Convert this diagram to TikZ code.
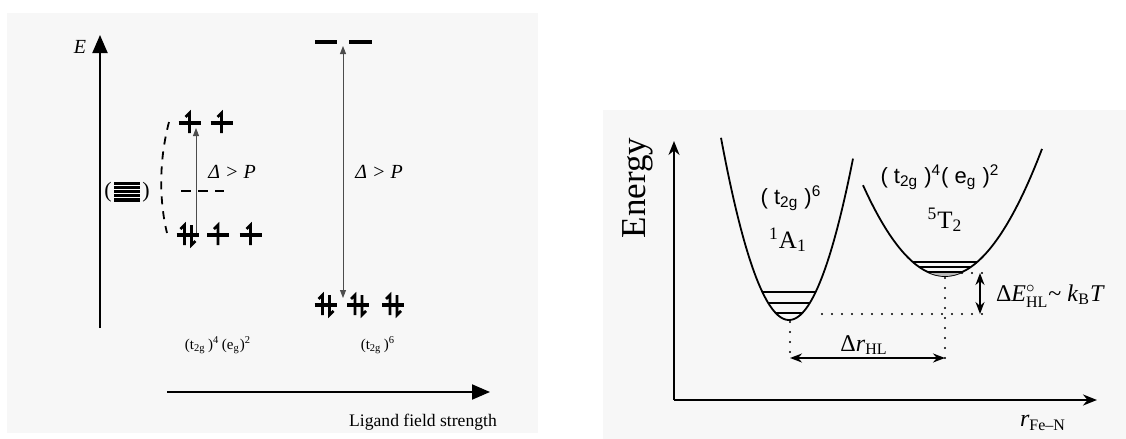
\documentclass[tikz,border=0pt]{standalone}
\usepackage{fontspec}
\usepackage{amsmath}
\setmainfont{Liberation Serif}
\setsansfont{Liberation Sans}
\usetikzlibrary{arrows.meta}
\tikzset{
  lax/.style={line width=1pt,-{Triangle[length=9pt,width=7.5pt]}},
  rax/.style={line width=1pt,-{Stealth[length=7pt,width=5.5pt]}},
  thinarr/.style={line width=0.45pt,black!70,-{Triangle[length=4pt,width=3pt]}},
  thinarr2/.style={line width=0.45pt,black!70,{Triangle[length=4pt,width=3pt]}-{Triangle[length=4pt,width=3pt]}},
  lvl/.style={line width=1.6pt},
  spin/.style={line width=1.3pt},
  well/.style={line width=0.9pt},
  vib/.style={line width=0.8pt},
  dots/.style={line width=1.2pt,dash pattern=on 0pt off 5pt,line cap=round},
  dimarr/.style={line width=0.9pt,{Stealth[length=6pt,width=4.5pt]}-{Stealth[length=6pt,width=4.5pt]}},
  lbl/.style={inner sep=0pt,outer sep=0pt},
  pics/spinup/.style={code={
    \draw[lvl] (-11,0) -- (11,0);
    \draw[spin] (0,10) -- (0,-10) -- (-4,-6);
  }},
  pics/spinpair/.style={code={
    \draw[lvl] (-11,0) -- (11,0);
    \draw[spin] (-3,10) -- (-3,-10) -- (-7,-6);
    \draw[spin] (4,-10) -- (4,10) -- (8,6);
  }},
}
\begin{document}
\begin{tikzpicture}[x=0.5pt,y=-0.5pt]
\useasboundingbox (0,0) rectangle (1126,439);
\fill[white] (0,0) rectangle (1126,439);
% scanned page backgrounds
\fill[gray!6] (7,13) rectangle (538,433);
\fill[gray!6] (603,110) rectangle (1126,439);

% ================= LEFT PANEL =================
\coordinate (Ebot) at (100,328);
\coordinate (Etop) at (100,35);
\draw[lax] (Ebot) -- (Etop);
\node[lbl] (Elab) at (80,47) {\fontsize{10}{12}\selectfont\itshape E};
\coordinate (Lx0) at (167,392);
\coordinate (Lx1) at (490,392);
\draw[lax] (Lx0) -- (Lx1);
\node[lbl] (lfs) at (423,422) {\fontsize{8.8}{10}\selectfont Ligand field strength};

% free ion (degenerate) levels
\node[lbl] (pl) at (108,192) {\fontsize{11}{12}\selectfont (};
\node[lbl] (pr) at (146,192) {\fontsize{11}{12}\selectfont )};
\fill[black] (114,182) rectangle (140,202);
\foreach \yy in {185.5,189.5,193.5,197.5} \draw[white,line width=0.6pt] (114,\yy) -- (140,\yy);

% high spin configuration
\coordinate (hsE1) at (189.5,123);
\coordinate (hsE2) at (221.5,123);
\coordinate (hsT1) at (187.5,235);
\coordinate (hsT2) at (218,235);
\coordinate (hsT3) at (250.5,235);
\pic at (hsE1) {spinup};
\pic at (hsE2) {spinup};
\pic at (hsT1) {spinpair};
\pic at (hsT2) {spinup};
\pic at (hsT3) {spinup};
\coordinate (bary0) at (181,191);
\coordinate (bary1) at (224,191);
\draw[line width=0.9pt,dash pattern=on 5pt off 3.5pt] (bary0) -- (bary1);
\coordinate (sp0) at (169,122);
\coordinate (sp1) at (167,233);
\draw[line width=0.9pt,dash pattern=on 4pt off 3.5pt] (sp0) .. controls (159,160) and (159,200) .. (sp1);
\coordinate (hsA0) at (196,233);
\coordinate (hsA1) at (196,128);
\draw[thinarr] (hsA0) -- (hsA1);
\node[lbl] (dp1) at (232,172) {\fontsize{10}{12}\selectfont\itshape Δ > P};
\node[lbl] (hslab) at (218,345) {\fontsize{7.5}{9}\selectfont (t$_{\text{2g}}$\,)$^{\text{4}}$\,(e$_{\text{g}}$)$^{\text{2}}$};

% low spin configuration
\coordinate (lsE1a) at (315,42);
\coordinate (lsE1b) at (337,42);
\coordinate (lsE2a) at (349,42);
\coordinate (lsE2b) at (372,42);
\draw[line width=2pt] (lsE1a) -- (lsE1b);
\draw[line width=2pt] (lsE2a) -- (lsE2b);
\coordinate (lsT1) at (325.5,305);
\coordinate (lsT2) at (358,305);
\coordinate (lsT3) at (393,305);
\pic at (lsT1) {spinpair};
\pic at (lsT2) {spinpair};
\pic at (lsT3) {spinpair};
\coordinate (lsA0) at (343,298);
\coordinate (lsA1) at (343,46);
\draw[thinarr2] (lsA0) -- (lsA1);
\node[lbl] (dp2) at (379,172) {\fontsize{10}{12}\selectfont\itshape Δ > P};
\node[lbl] (lslab) at (378,345) {\fontsize{7.5}{9}\selectfont (t$_{\text{2g}}$\,)$^{\text{6}}$};

% ================= RIGHT PANEL =================
\coordinate (O) at (674,400);
\coordinate (Ey) at (674,141);
\coordinate (Rx) at (1097,400);
\draw[rax] (O) -- (Ey);
\draw[rax] (O) -- (Rx);
\node[lbl,rotate=90] (Elab2) at (638,188) {\fontsize{17.5}{20}\selectfont Energy};
\node[lbl] (rfen) at (1043,423) {\fontsize{12}{14}\selectfont\itshape r\/$_{\text{\upshape Fe–N}}$};

% potential wells
\draw[well] plot[domain=721:853,samples=80] (\x,{320-0.0394*(\x-789)^2});
\draw[well] plot[domain=863:1042,samples=80] (\x,{276-0.0135*(\x-945)^2});
% vibrational levels
\foreach \yy in {292,303,313}
  \draw[vib] ({789-sqrt((320-\yy)/0.0394)},\yy) -- ({789+sqrt((320-\yy)/0.0394)},\yy);
\fill[gray!55] plot[domain=928:962,samples=20] (\x,{276-0.0135*(\x-945)^2}) -- cycle;
\foreach \yy in {262,267,272}
  \draw[vib] ({945-sqrt((276-\yy)/0.0135)},\yy) -- ({945+sqrt((276-\yy)/0.0135)},\yy);

% dotted construction lines
\coordinate (LSmin) at (790,322);
\coordinate (HSmin) at (945,278);
\coordinate (LSbot) at (790,358);
\coordinate (HSbot) at (945,358);
\coordinate (hz0) at (822,314);
\coordinate (hz1) at (988,314);
\coordinate (tz0) at (962,273);
\coordinate (tz1) at (988,273);
\draw[dots] (LSmin) -- (LSbot);
\draw[dots] (HSmin) -- (HSbot);
\draw[dots] (hz0) -- (hz1);
\draw[dots] (tz0) -- (tz1);
\coordinate (dE0) at (980,273);
\coordinate (dE1) at (980,314);
\draw[dimarr] (dE0) -- (dE1);
\draw[dimarr] (LSbot) -- (HSbot);

% labels
\node[lbl] (lsconf) at (791,198) {\fontsize{11}{13}\selectfont\sffamily ( t$_{\text{2g}}$ )$^{\text{6}}$};
\node[lbl] (lsterm) at (788,240) {\fontsize{12.5}{14}\selectfont $^{\text{1}}$A$_{\text{1}}$};
\node[lbl] (hsconf) at (940,177) {\fontsize{11}{13}\selectfont\sffamily ( t$_{\text{2g}}$ )$^{\text{4}}$( e$_{\text{g}}$ )$^{\text{2}}$};
\node[lbl] (hsterm) at (945,220) {\fontsize{12.5}{14}\selectfont $^{\text{5}}$T$_{\text{2}}$};
\node[lbl] (drlab) at (864,345) {\fontsize{12}{14}\selectfont Δ\textit{r}$_{\text{HL}}$};
\node[lbl,anchor=west] (delab) at (996,296) {\fontsize{12}{14}\selectfont Δ\textit{E}$^{\circ}_{\text{HL}}$\symbol{"007E} \textit{k}$_{\text{B}}$\textit{T}};
\end{tikzpicture}
\end{document}
